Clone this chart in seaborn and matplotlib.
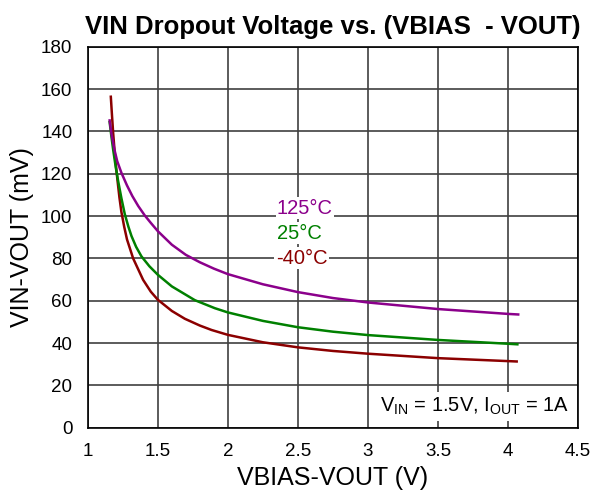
import matplotlib
matplotlib.use("Agg")
import matplotlib.pyplot as plt
import seaborn as sns
import pandas as pd

sns.set_theme(style="white")
plt.rcParams['font.family'] = ['Liberation Sans', 'DejaVu Sans']
plt.rcParams['mathtext.fontset'] = 'custom'
plt.rcParams['mathtext.rm'] = 'Liberation Sans'
plt.rcParams['text.color'] = 'black'

# Data
x_125 = [1.155, 1.17, 1.19, 1.21, 1.24, 1.28, 1.318, 1.36, 1.407, 1.45, 1.5, 1.6, 1.7, 1.8,
         1.9, 2.0, 2.25, 2.5, 2.75, 3.0, 3.5, 4.0, 4.081]
y_125 = [145.8, 138.5, 131.5, 126, 120.5, 114.5, 109.5, 104.8, 100.3, 96.8, 92.9, 86.5, 81.7,
         78.2, 75.2, 72.6, 67.8, 64.1, 61.3, 59.2, 56.1, 53.8, 53.5]
x_25 = [1.155, 1.168, 1.181, 1.2, 1.217, 1.24, 1.264, 1.29, 1.312, 1.345, 1.383, 1.44, 1.5,
        1.6, 1.764, 1.907, 2.0, 2.25, 2.5, 2.75, 3.0, 3.5, 4.0, 4.075]
y_25 = [145, 138, 131.5, 123, 116.5, 108.5, 101, 95, 90.6, 85.5, 81, 76.3, 72.3, 66.8, 60.3,
        56.5, 54.5, 50.5, 47.5, 45.4, 43.8, 41.5, 39.7, 39.4]
x_m40 = [1.164, 1.172, 1.181, 1.196, 1.212, 1.226, 1.24, 1.26, 1.28, 1.324, 1.395, 1.45, 1.5,
         1.6, 1.693, 1.8, 1.884, 2.0, 2.25, 2.5, 2.75, 3.0, 3.5, 4.0, 4.07]
y_m40 = [157, 148.5, 139.5, 127, 117, 108.8, 102, 95, 89, 80, 69.9, 64.3, 60.5, 55.2, 51.5,
         48.3, 46.2, 43.9, 40.4, 38.0, 36.3, 35.0, 32.9, 31.5, 31.3]
series_names = ["125°C", "25°C", "-40°C"]
colors = ["#8B008B", "#008000", "#8B0000"]
x_ticks = [1, 1.5, 2, 2.5, 3, 3.5, 4, 4.5]
x_tick_labels = ["1", "1.5", "2", "2.5", "3", "3.5", "4", "4.5"]
y_ticks = [0, 20, 40, 60, 80, 100, 120, 140, 160, 180]

df = pd.concat([
    pd.DataFrame({"x": x_m40, "y": y_m40, "T": series_names[2]}),
    pd.DataFrame({"x": x_25, "y": y_25, "T": series_names[1]}),
    pd.DataFrame({"x": x_125, "y": y_125, "T": series_names[0]}),
])

fig = plt.figure(figsize=(5.93, 4.98), dpi=100)
ax = fig.add_axes([0.148, 0.141, 0.827, 0.765])
sns.lineplot(data=df, x="x", y="y", hue="T", hue_order=series_names[::-1],
             palette=dict(zip(series_names, colors)),
             sort=False, estimator=None, linewidth=1.8, legend=False, ax=ax, zorder=3)
for ln in ax.lines:
    ln.set_solid_joinstyle("round")
    ln.set_solid_capstyle("butt")

ax.set_xlim(1, 4.5)
ax.set_ylim(0, 180)
ax.set_xticks(x_ticks)
ax.set_xticklabels(x_tick_labels)
ax.set_yticks(y_ticks)
ax.grid(True, color="#404040", linewidth=1.2)
for s in ax.spines.values():
    s.set_color("black")
    s.set_linewidth(1.2)
ax.tick_params(axis="both", labelsize=13.5, colors="black", length=0)
ax.tick_params(axis="x", pad=11)
ax.tick_params(axis="y", pad=11)
ax.set_xlabel("VBIAS-VOUT (V)", fontsize=18, color="black", labelpad=4)
ax.set_ylabel("VIN-VOUT (mV)", fontsize=18, color="black", labelpad=5)
ax.set_title("VIN Dropout Voltage vs. (VBIAS  - VOUT)", fontsize=18.5, fontweight="bold",
             pad=9, color="black")

label_pos = [(2.55, 103.8), (2.51, 92), (2.526, 80.2)]
for name, c, (lx, ly) in zip(series_names, colors, label_pos):
    ax.text(lx, ly, name, color=c, fontsize=14.5, ha="center", va="center", zorder=4,
            bbox=dict(facecolor="white", edgecolor="none", pad=1.0))

ax.text(3.764, 10, r"V$_{\mathrm{IN}}$ = 1.5V, I$_{\mathrm{OUT}}$ = 1A", fontsize=14.5,
        ha="center", va="center", zorder=4,
        bbox=dict(facecolor="white", edgecolor="none", pad=3))

fig.savefig("out.png", dpi=100)
